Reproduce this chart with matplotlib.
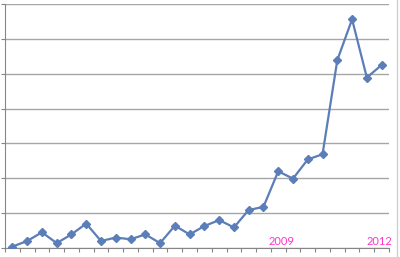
import matplotlib
matplotlib.use("Agg")
import matplotlib.pyplot as plt
from matplotlib.lines import Line2D
import numpy as np

# values, in gridline units
values = [0.04, 0.20, 0.45, 0.14, 0.39, 0.70, 0.20, 0.30, 0.25, 0.39,
          0.14, 0.64, 0.39, 0.63, 0.80, 0.59, 1.09, 1.18, 2.20, 1.99,
          2.54, 2.69, 5.39, 6.56, 4.89, 5.25]
year_labels = ["2009", "2012"]
year_pos = [18.2, 24.85]

x = np.arange(len(values))

fig = plt.figure(figsize=(4.0, 2.57), dpi=100)
ax = fig.add_axes([5 / 400, 9 / 257, 384 / 400, 244 / 257])

ax.plot(x, values, color="#5b7db8", lw=1.6, marker="D", ms=4,
        mec="#5b7db8", mfc="#5b7db8", zorder=3)

ax.set_xlim(-0.5, len(values) - 0.5)
ax.set_ylim(0, 7)
ax.set_yticks(np.arange(0, 8))
ax.set_yticklabels([])
ax.set_xticks(np.arange(-0.5, len(values)))
ax.set_xticklabels([])
ax.yaxis.grid(True, color="#a6a6a6", lw=1.0)
ax.set_axisbelow(True)
ax.tick_params(axis="both", length=3, width=0.8, color="#868686")
for side in ["top", "right"]:
    ax.spines[side].set_visible(False)
for side in ["left", "bottom"]:
    ax.spines[side].set_color("#868686")
    ax.spines[side].set_linewidth(0.8)

for lab, pos in zip(year_labels, year_pos):
    ax.text(pos, 0.03, lab, color="#ff33cc", fontsize=8, ha="center",
            va="bottom", family="Lato")

# chart area frame on the right
fig.add_artist(Line2D([396.5 / 400, 396.5 / 400], [0, 1], color="#d0d0d0",
                      lw=1.0, transform=fig.transFigure))

fig.savefig("out.png", dpi=100)
